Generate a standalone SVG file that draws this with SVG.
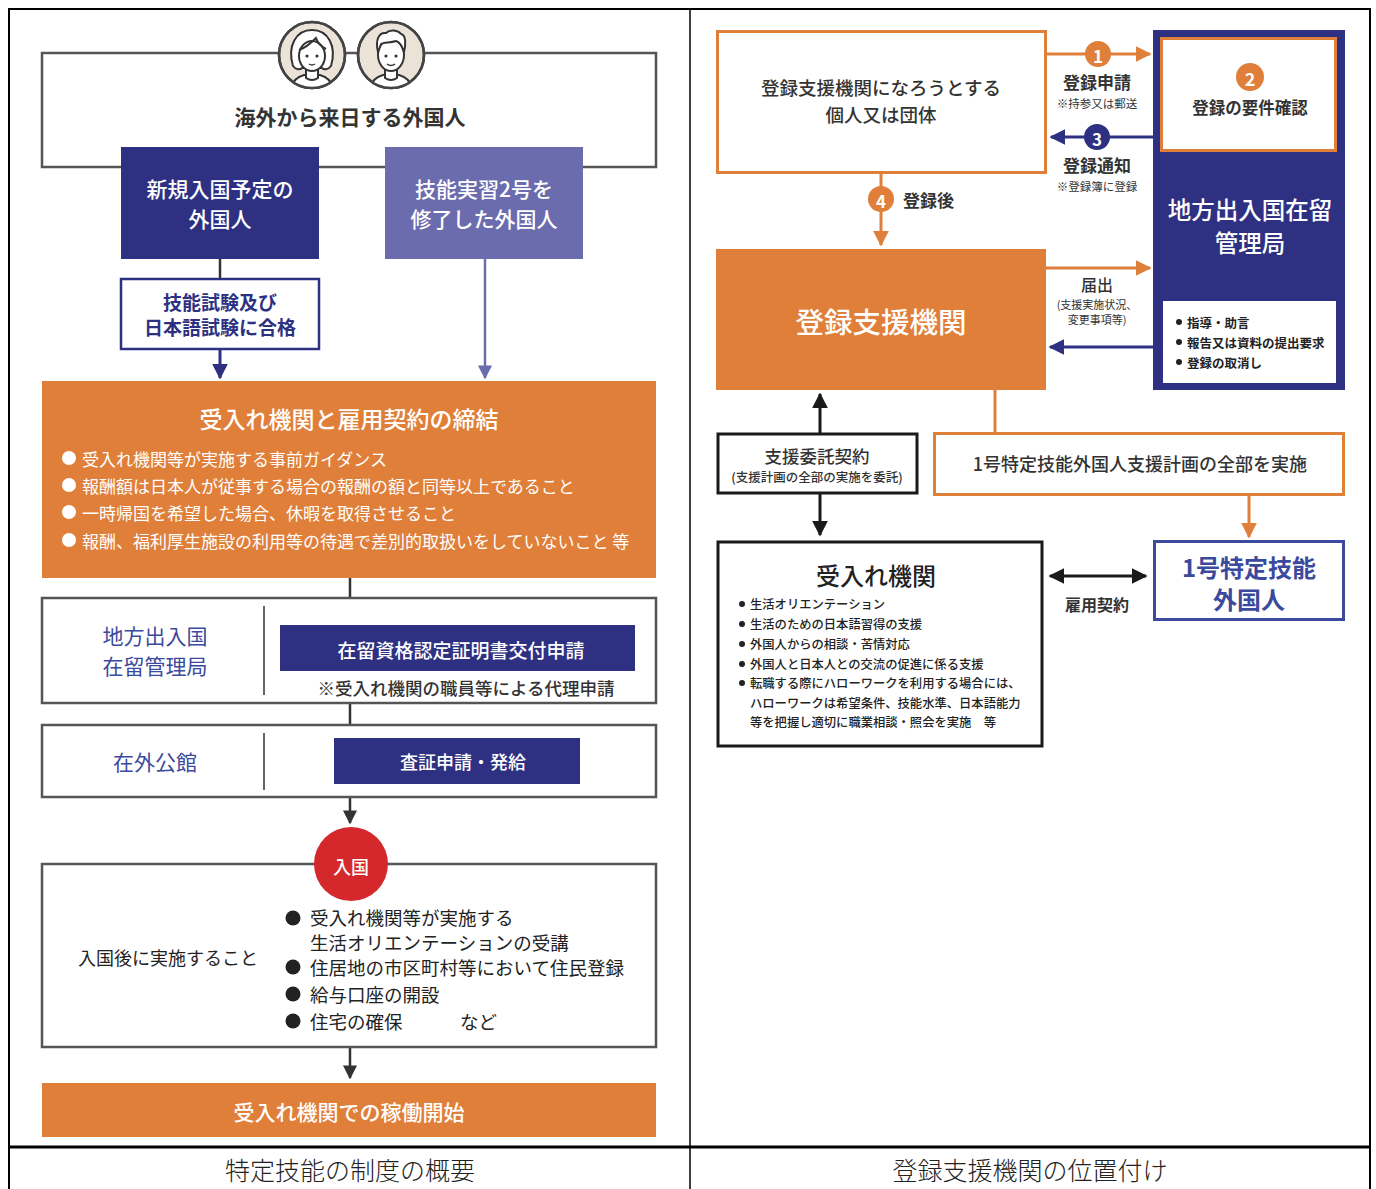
<svg xmlns="http://www.w3.org/2000/svg" width="1376" height="1189" viewBox="0 0 1376 1189">
  <defs>
    <style>
      text { font-family: "Noto Sans CJK JP", "Noto Sans", sans-serif; dominant-baseline: central; }
      .c { text-anchor: middle; }
      .w { fill: #ffffff; }
      .dk { fill: #333333; }
      .nv { fill: #2e3182; }
      .b { font-weight: bold; }
      .m { font-weight: 500; }
      .frame { fill: #ffffff; stroke: #555555; stroke-width: 2.5; }
      .navy { fill: #2e3182; }
      .orange { fill: #e07f3a; }
      .line-dk { stroke: #333333; stroke-width: 2.5; fill: none; }
      .line-or { stroke: #e07f3a; stroke-width: 3; fill: none; }
      .line-nv { stroke: #2e3182; stroke-width: 3; fill: none; }
      .line-bk { stroke: #1a1a1a; stroke-width: 3; fill: none; }
      .face { fill: #ece3d8; stroke: #444444; stroke-width: 2.5; }
      .art { fill: #ffffff; stroke: #333333; stroke-width: 2; stroke-linejoin: round; }
    </style>
    <marker id="ah-dk" viewBox="0 0 10 10" refX="9" refY="5" markerWidth="14" markerHeight="14" markerUnits="userSpaceOnUse" orient="auto-start-reverse">
      <path d="M0,0 L10,5 L0,10 Z" fill="#333333"/>
    </marker>
    <marker id="ah-lp" viewBox="0 0 10 10" refX="9" refY="5" markerWidth="14" markerHeight="14" markerUnits="userSpaceOnUse" orient="auto-start-reverse">
      <path d="M0,0 L10,5 L0,10 Z" fill="#6b6cae"/>
    </marker>
    <marker id="ah-nv" viewBox="0 0 10 10" refX="9" refY="5" markerWidth="16" markerHeight="16" markerUnits="userSpaceOnUse" orient="auto-start-reverse">
      <path d="M0,0 L10,5 L0,10 Z" fill="#2e3182"/>
    </marker>
    <marker id="ah-or" viewBox="0 0 10 10" refX="9" refY="5" markerWidth="16" markerHeight="16" markerUnits="userSpaceOnUse" orient="auto-start-reverse">
      <path d="M0,0 L10,5 L0,10 Z" fill="#e07f3a"/>
    </marker>
    <marker id="ah-bk" viewBox="0 0 10 10" refX="9" refY="5" markerWidth="16" markerHeight="16" markerUnits="userSpaceOnUse" orient="auto-start-reverse">
      <path d="M0,0 L10,5 L0,10 Z" fill="#1a1a1a"/>
    </marker>
    <clipPath id="clip-f1"><circle cx="312" cy="55" r="33"/></clipPath>
    <clipPath id="clip-f2"><circle cx="391" cy="55" r="33"/></clipPath>
  </defs>

  <rect width="1376" height="1189" fill="#ffffff"/>

  <!-- table frame -->
  <g id="table">
    <rect x="9" y="9" width="1361" height="1190" fill="none" stroke="#000000" stroke-width="2"/>
    <line x1="690" y1="9" x2="690" y2="1189" stroke="#000000" stroke-width="1.5"/>
    <line x1="9" y1="1147" x2="1370" y2="1147" stroke="#000000" stroke-width="3"/>
    <text x="350" y="1169" class="c" font-size="25" fill="#222222" font-weight="300">特定技能の制度の概要</text>
    <text x="1030" y="1169" class="c" font-size="25" fill="#222222" font-weight="300">登録支援機関の位置付け</text>
  </g>

  <!-- ===== left: overview of the system ===== -->
  <g id="connectors-left">
    <line x1="220" y1="259" x2="220" y2="279" class="line-dk" stroke="#2e3182"/>
    <line x1="220" y1="349" x2="220" y2="378" class="line-nv" stroke-width="2.5" marker-end="url(#ah-nv)"/>
    <line x1="485" y1="259" x2="485" y2="378" stroke="#6b6cae" stroke-width="2.5" marker-end="url(#ah-lp)"/>
    <line x1="350" y1="578" x2="350" y2="621" class="line-dk" marker-end="url(#ah-dk)"/>
    <line x1="350" y1="703" x2="350" y2="725" class="line-dk"/>
    <line x1="350" y1="797" x2="350" y2="823" class="line-dk" marker-end="url(#ah-dk)"/>
    <line x1="350" y1="1047" x2="350" y2="1078" class="line-dk" marker-end="url(#ah-dk)"/>
  </g>

  <g id="node-arrivals">
    <rect x="42" y="53" width="614" height="114" fill="none" stroke="#555555" stroke-width="2.5"/>
    <g id="face-woman">
      <circle cx="312" cy="55" r="33" class="face"/>
      <g clip-path="url(#clip-f1)">
        <path class="art" d="M290,92 Q292,78 304,75 L320,75 Q332,78 334,92 Z"/>
        <path class="art" d="M306,68 L306,78 Q312,82 318,78 L318,68 Z"/>
        <path class="art" d="M293,66 C287,46 296,30 312,30 C328,30 337,46 331,66 C328,70 324,70 322,68 L302,68 C300,70 296,70 293,66 Z"/>
        <ellipse cx="312" cy="56" rx="13" ry="15" fill="#ffffff" stroke="#333333" stroke-width="2"/>
        <path d="M299,50 C305,48 312,42 316,38 C318,44 322,47 326,49" fill="none" stroke="#333333" stroke-width="2"/>
        <circle cx="307" cy="56" r="1.6" fill="#333333"/>
        <circle cx="317" cy="56" r="1.6" fill="#333333"/>
        <path d="M309,64 Q312,66 315,64" fill="none" stroke="#333333" stroke-width="1.5"/>
      </g>
      <circle cx="312" cy="55" r="33" fill="none" stroke="#444444" stroke-width="2.5"/>
    </g>
    <g id="face-man">
      <circle cx="391" cy="55" r="33" class="face"/>
      <g clip-path="url(#clip-f2)">
        <path class="art" d="M369,92 Q371,78 383,75 L399,75 Q411,78 413,92 Z"/>
        <path class="art" d="M385,68 L385,78 Q391,82 397,78 L397,68 Z"/>
        <ellipse cx="391" cy="55" rx="13" ry="16" fill="#ffffff" stroke="#333333" stroke-width="2"/>
        <path class="art" d="M378,52 C375,40 379,32 386,33 C390,29 398,30 401,34 C406,35 406,44 404,52 C402,46 400,42 396,41 C390,43 384,42 381,44 C380,47 379,50 378,52 Z"/>
        <circle cx="386" cy="56" r="1.6" fill="#333333"/>
        <circle cx="396" cy="56" r="1.6" fill="#333333"/>
        <path d="M387,64 Q391,67 395,64" fill="none" stroke="#333333" stroke-width="1.5"/>
      </g>
      <circle cx="391" cy="55" r="33" fill="none" stroke="#444444" stroke-width="2.5"/>
    </g>
    <text x="350" y="116" class="c dk b" font-size="21">海外から来日する外国人</text>
  </g>

  <g id="node-new-entrants">
    <rect x="121" y="147" width="198" height="112" class="navy"/>
    <text x="220" y="188" class="c w m" font-size="21">新規入国予定の</text>
    <text x="220" y="218" class="c w m" font-size="21">外国人</text>
  </g>

  <g id="node-trainees">
    <rect x="385" y="147" width="198" height="112" fill="#6b6cae"/>
    <text x="484" y="188" class="c w m" font-size="21">技能実習2号を</text>
    <text x="484" y="218" class="c w m" font-size="21">修了した外国人</text>
  </g>

  <g id="node-exams">
    <rect x="121" y="279" width="198" height="70" fill="#ffffff" stroke="#2e3182" stroke-width="2.5"/>
    <text x="220" y="301" class="c nv b" font-size="19">技能試験及び</text>
    <text x="220" y="326" class="c nv b" font-size="19">日本語試験に合格</text>
  </g>

  <g id="node-contract">
    <rect x="42" y="381" width="614" height="197" class="orange"/>
    <text x="349" y="418" class="c w m" font-size="23">受入れ機関と雇用契約の締結</text>
    <g font-size="17" fill="#ffffff">
      <circle cx="69" cy="458" r="7" fill="#ffffff"/>
      <text x="82" y="458" class="w">受入れ機関等が実施する事前ガイダンス</text>
      <circle cx="69" cy="485" r="7" fill="#ffffff"/>
      <text x="82" y="485" class="w">報酬額は日本人が従事する場合の報酬の額と同等以上であること</text>
      <circle cx="69" cy="512" r="7" fill="#ffffff"/>
      <text x="82" y="512" class="w">一時帰国を希望した場合、休暇を取得させること</text>
      <circle cx="69" cy="540" r="7" fill="#ffffff"/>
      <text x="82" y="540" class="w">報酬、福利厚生施設の利用等の待遇で差別的取扱いをしていないこと 等</text>
    </g>
  </g>

  <g id="node-immigration-bureau">
    <rect x="42" y="598" width="614" height="105" class="frame"/>
    <line x1="264" y1="606" x2="264" y2="695" stroke="#333333" stroke-width="1.5"/>
    <text x="155" y="635" class="c" font-size="21" fill="#3b4a9c">地方出入国</text>
    <text x="155" y="665" class="c" font-size="21" fill="#3b4a9c">在留管理局</text>
    <rect x="280" y="625" width="355" height="46" class="navy"/>
    <text x="461" y="649" class="c w m" font-size="19">在留資格認定証明書交付申請</text>
    <text x="466" y="687" class="c dk m" font-size="17.5">※受入れ機関の職員等による代理申請</text>
  </g>

  <g id="node-embassy">
    <rect x="42" y="725" width="614" height="72" class="frame"/>
    <line x1="264" y1="733" x2="264" y2="790" stroke="#333333" stroke-width="1.5"/>
    <text x="155" y="761" class="c" font-size="21" fill="#3b4a9c">在外公館</text>
    <rect x="334" y="738" width="246" height="46" class="navy"/>
    <text x="463" y="761" class="c w m" font-size="18">査証申請・発給</text>
  </g>

  <g id="node-after-entry">
    <rect x="42" y="864" width="614" height="183" class="frame"/>
    <circle cx="351" cy="864" r="37" fill="#d4282c"/>
    <text x="351" y="866" class="c w m" font-size="18">入国</text>
    <text x="168" y="957" class="c" font-size="18" fill="#222222">入国後に実施すること</text>
    <g font-size="18.5" fill="#222222">
      <circle cx="293" cy="918" r="7.5" fill="#222222"/>
      <text x="310" y="917">受入れ機関等が実施する</text>
      <text x="310" y="942">生活オリエンテーションの受講</text>
      <circle cx="293" cy="967" r="7.5" fill="#222222"/>
      <text x="310" y="967">住居地の市区町村等において住民登録</text>
      <circle cx="293" cy="994" r="7.5" fill="#222222"/>
      <text x="310" y="994">給与口座の開設</text>
      <circle cx="293" cy="1021" r="7.5" fill="#222222"/>
      <text x="310" y="1021">住宅の確保</text>
      <text x="460" y="1021">など</text>
    </g>
  </g>

  <g id="node-start-work">
    <rect x="42" y="1083" width="614" height="54" class="orange"/>
    <text x="349" y="1111" class="c w m" font-size="21">受入れ機関での稼働開始</text>
  </g>

  <!-- ===== right: position of registered support organisations ===== -->
  <g id="connectors-right">
    <!-- 1 registration application -->
    <line x1="1046" y1="54" x2="1150" y2="54" class="line-or" marker-end="url(#ah-or)"/>
    <!-- 3 registration notice -->
    <line x1="1153" y1="137" x2="1051" y2="137" class="line-nv" marker-end="url(#ah-nv)"/>
    <!-- 4 after registration -->
    <line x1="881" y1="173" x2="881" y2="245" class="line-or" marker-end="url(#ah-or)"/>
    <!-- notification -->
    <line x1="1046" y1="268" x2="1150" y2="268" class="line-or" marker-end="url(#ah-or)"/>
    <!-- guidance back -->
    <line x1="1153" y1="347" x2="1050" y2="347" class="line-nv" marker-end="url(#ah-nv)"/>
    <!-- support plan -->
    <line x1="995" y1="390" x2="995" y2="432" class="line-or" stroke-width="2.5"/>
    <line x1="1249" y1="495" x2="1249" y2="537" class="line-or" marker-end="url(#ah-or)"/>
    <!-- support entrustment contract -->
    <line x1="820" y1="433" x2="820" y2="394" class="line-bk" marker-end="url(#ah-bk)"/>
    <line x1="820" y1="493" x2="820" y2="535" class="line-bk" marker-end="url(#ah-bk)"/>
    <!-- employment contract -->
    <line x1="1050" y1="576" x2="1146" y2="576" class="line-bk" marker-start="url(#ah-bk)" marker-end="url(#ah-bk)"/>
  </g>

  <g id="labels-right">
    <circle cx="1098" cy="54" r="13" fill="#e07f3a"/>
    <text x="1098" y="55" class="c w b" font-size="17">1</text>
    <text x="1097" y="81" class="c dk b" font-size="17">登録申請</text>
    <text x="1097" y="103" class="c dk" font-size="11.5">※持参又は郵送</text>

    <circle cx="1097" cy="137" r="13" fill="#2e3182"/>
    <text x="1097" y="138" class="c w b" font-size="17">3</text>
    <text x="1097" y="164" class="c dk b" font-size="17">登録通知</text>
    <text x="1097" y="186" class="c dk" font-size="11.5">※登録簿に登録</text>

    <circle cx="881" cy="199" r="13" fill="#e07f3a"/>
    <text x="881" y="200" class="c w b" font-size="17">4</text>
    <text x="903" y="199" class="dk b" font-size="17">登録後</text>

    <text x="1097" y="284" class="c dk m" font-size="16">届出</text>
    <text x="1097" y="304" class="c dk" font-size="11">(支援実施状況、</text>
    <text x="1097" y="319" class="c dk" font-size="11">変更事項等)</text>

    <text x="1097" y="604" class="c dk b" font-size="16">雇用契約</text>
  </g>

  <g id="node-applicant">
    <rect x="717.5" y="31.5" width="328" height="141" fill="#ffffff" stroke="#e07f3a" stroke-width="3"/>
    <text x="881" y="87" class="c m" font-size="18.5" fill="#333333">登録支援機関になろうとする</text>
    <text x="881" y="114" class="c m" font-size="18.5" fill="#333333">個人又は団体</text>
  </g>

  <g id="node-regional-bureau">
    <rect x="1153" y="30" width="192" height="360" class="navy"/>
    <rect x="1161.5" y="38.5" width="174" height="112" fill="#ffffff" stroke="#e07f3a" stroke-width="3"/>
    <circle cx="1250" cy="77" r="14" fill="#e07f3a"/>
    <text x="1250" y="78" class="c w b" font-size="18">2</text>
    <text x="1250" y="107" class="c dk b" font-size="16.5">登録の要件確認</text>
    <text x="1250" y="209" class="c w m" font-size="23.5">地方出入国在留</text>
    <text x="1250" y="242" class="c w m" font-size="23.5">管理局</text>
    <rect x="1163" y="301" width="173" height="82" fill="#ffffff"/>
    <g font-size="12.5" fill="#222222">
      <circle cx="1179" cy="322" r="3" fill="#222222"/>
      <text x="1187" y="322" class="b">指導・助言</text>
      <circle cx="1179" cy="342" r="3" fill="#222222"/>
      <text x="1187" y="342" class="b">報告又は資料の提出要求</text>
      <circle cx="1179" cy="362" r="3" fill="#222222"/>
      <text x="1187" y="362" class="b">登録の取消し</text>
    </g>
  </g>

  <g id="node-support-org">
    <rect x="716" y="249" width="330" height="141" class="orange"/>
    <text x="881" y="320" class="c w m" font-size="28.5">登録支援機関</text>
  </g>

  <g id="node-support-plan">
    <rect x="934.5" y="433.5" width="409" height="61" fill="#ffffff" stroke="#e07f3a" stroke-width="3"/>
    <text x="1140" y="463" class="c dk m" font-size="18">1号特定技能外国人支援計画の全部を実施</text>
  </g>

  <g id="node-entrustment">
    <rect x="718" y="434" width="199" height="59" fill="#ffffff" stroke="#1a1a1a" stroke-width="3"/>
    <text x="817" y="455" class="c dk m" font-size="17.5">支援委託契約</text>
    <text x="817" y="476" class="c dk m" font-size="12.5">(支援計画の全部の実施を委託)</text>
  </g>

  <g id="node-host-org">
    <rect x="718" y="542" width="324" height="204" fill="#ffffff" stroke="#1a1a1a" stroke-width="3"/>
    <text x="876" y="574" class="c m" font-size="24" fill="#222222">受入れ機関</text>
    <g font-size="12.3" fill="#222222">
      <circle cx="742" cy="604" r="3" fill="#222222"/>
      <text x="750" y="604" class="m">生活オリエンテーション</text>
      <circle cx="742" cy="624" r="3" fill="#222222"/>
      <text x="750" y="624" class="m">生活のための日本語習得の支援</text>
      <circle cx="742" cy="644" r="3" fill="#222222"/>
      <text x="750" y="644" class="m">外国人からの相談・苦情対応</text>
      <circle cx="742" cy="664" r="3" fill="#222222"/>
      <text x="750" y="664" class="m">外国人と日本人との交流の促進に係る支援</text>
      <circle cx="742" cy="683" r="3" fill="#222222"/>
      <text x="750" y="683" class="m">転職する際にハローワークを利用する場合には、</text>
      <text x="750" y="703" class="m">ハローワークは希望条件、技能水準、日本語能力</text>
      <text x="750" y="722" class="m">等を把握し適切に職業相談・照会を実施　等</text>
    </g>
  </g>

  <g id="node-specified-worker">
    <rect x="1154.5" y="541.5" width="189" height="78" fill="#ffffff" stroke="#3b4a9c" stroke-width="3"/>
    <text x="1249" y="566" class="c b" font-size="24" fill="#3b4a9c">1号特定技能</text>
    <text x="1249" y="598" class="c b" font-size="24" fill="#3b4a9c">外国人</text>
  </g>
</svg>
